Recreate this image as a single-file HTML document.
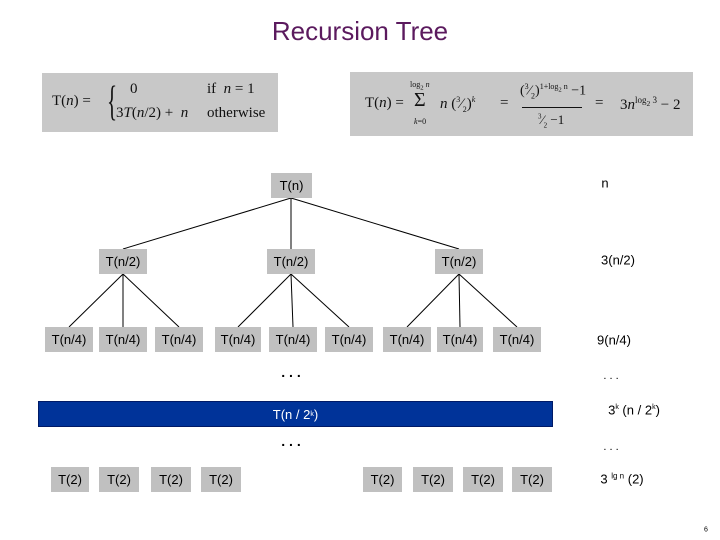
<!DOCTYPE html>
<html><head><meta charset="utf-8"><style>
body{margin:0;width:720px;height:540px;background:#fff;position:relative;overflow:hidden;font-family:"Liberation Sans",sans-serif;}
.a{position:absolute;}
.b{position:absolute;background:#c0c0c0;font-size:13px;color:#000;display:flex;align-items:center;justify-content:center;}
.t{position:absolute;font-size:13px;transform:translate(-50%,-50%);white-space:nowrap;}
.f{font-family:"Liberation Serif",serif;color:#111;}
</style></head><body>
<div class="a" style="left:0;width:720px;top:16px;text-align:center;font-size:26px;color:#5b1a5e;">Recursion Tree</div>
<div class="a f" style="left:42px;top:73px;width:236px;height:59px;background:#c8c8c8;">
 <span class="a" style="left:10px;top:20px;font-size:15px;">T(<i>n</i>) =</span>
 <span class="a" style="left:60px;top:5px;font-size:42px;font-weight:100;transform:scaleX(0.5);">{</span>
 <span class="a" style="left:88px;top:8px;font-size:15px;">0</span>
 <span class="a" style="left:165px;top:8px;font-size:15px;">if &nbsp;<i>n</i> = 1</span>
 <span class="a" style="left:74px;top:32px;font-size:15px;">3<i>T</i>(<i>n</i>/2) + &nbsp;<i>n</i></span>
 <span class="a" style="left:165px;top:32px;font-size:15px;">otherwise</span>
</div>
<div class="a f" style="left:350px;top:72px;width:343px;height:64px;background:#c8c8c8;">
 <span class="a" style="left:15px;top:23px;font-size:15px;">T(<i>n</i>) =</span>
 <span class="a" style="left:60px;top:8px;font-size:8px;">log<sub>2</sub> <i>n</i></span>
 <span class="a" style="left:64px;top:17px;font-size:20px;">Σ</span>
 <span class="a" style="left:64px;top:45px;font-size:8px;"><i>k</i>=0</span>
 <span class="a" style="left:90px;top:23px;font-size:15px;"><i>n</i> (<sup style="font-size:8px">3</sup>⁄<sub style="font-size:8px">2</sub>)<sup style="font-size:8px"><i>k</i></sup></span>
 <span class="a" style="left:150px;top:23px;font-size:15px;">=</span>
 <span class="a" style="left:170px;top:10px;font-size:14px;">(<sup style="font-size:8px">3</sup>⁄<sub style="font-size:8px">2</sub>)<sup style="font-size:8px">1+log<sub>2</sub> n</sup> −1</span>
 <div class="a" style="left:172px;top:35px;width:60px;border-top:1px solid #111;"></div>
 <span class="a" style="left:188px;top:40px;font-size:13px;"><sup style="font-size:7px">3</sup>⁄<sub style="font-size:7px">2</sub> −1</span>
 <span class="a" style="left:245px;top:23px;font-size:15px;">=</span>
 <span class="a" style="left:270px;top:23px;font-size:15px;">3<i>n</i><sup style="font-size:9px">log<sub>2</sub> 3</sup> − 2</span>
</div>
<svg class="a" style="left:0;top:0" width="720" height="540">
<g stroke="#000" stroke-width="1">
<line x1="291" y1="198" x2="123" y2="249"/><line x1="291" y1="198" x2="291" y2="249"/><line x1="291" y1="198" x2="459" y2="249"/>
<line x1="123" y1="274" x2="69" y2="327"/><line x1="123" y1="274" x2="123" y2="327"/><line x1="123" y1="274" x2="179" y2="327"/>
<line x1="291" y1="274" x2="238" y2="327"/><line x1="291" y1="274" x2="293" y2="327"/><line x1="291" y1="274" x2="349" y2="327"/>
<line x1="459" y1="274" x2="407" y2="327"/><line x1="459" y1="274" x2="460" y2="327"/><line x1="459" y1="274" x2="517" y2="327"/>
</g></svg>
<div class="b" style="left:271px;top:173px;width:41px;height:25px;">T(n)</div>
<div class="b" style="left:99px;top:249px;width:48px;height:25px;">T(n/2)</div>
<div class="b" style="left:267px;top:249px;width:48px;height:25px;">T(n/2)</div>
<div class="b" style="left:435px;top:249px;width:48px;height:25px;">T(n/2)</div>
<div class="b" style="left:45px;top:327px;width:48px;height:25px;">T(n/4)</div>
<div class="b" style="left:99px;top:327px;width:48px;height:25px;">T(n/4)</div>
<div class="b" style="left:155px;top:327px;width:48px;height:25px;">T(n/4)</div>
<div class="b" style="left:215px;top:327px;width:46px;height:25px;">T(n/4)</div>
<div class="b" style="left:269px;top:327px;width:48px;height:25px;">T(n/4)</div>
<div class="b" style="left:325px;top:327px;width:48px;height:25px;">T(n/4)</div>
<div class="b" style="left:383px;top:327px;width:48px;height:25px;">T(n/4)</div>
<div class="b" style="left:437px;top:327px;width:46px;height:25px;">T(n/4)</div>
<div class="b" style="left:493px;top:327px;width:48px;height:25px;">T(n/4)</div>
<div class="t" style="left:291px;top:372px;font-size:14px;font-weight:bold;">. . .</div>
<div class="a" style="left:38px;top:401px;width:513px;height:24px;background:#003399;border:1px solid #001a66;color:#fff;font-size:13px;display:flex;align-items:center;justify-content:center;">T(n / 2<sup style="font-size:7px">k</sup>)</div>
<div class="t" style="left:291px;top:441px;font-size:14px;font-weight:bold;">. . .</div>
<div class="b" style="left:51px;top:467px;width:38px;height:25px;">T(2)</div>
<div class="b" style="left:99px;top:467px;width:40px;height:25px;">T(2)</div>
<div class="b" style="left:151px;top:467px;width:40px;height:25px;">T(2)</div>
<div class="b" style="left:201px;top:467px;width:40px;height:25px;">T(2)</div>
<div class="b" style="left:363px;top:467px;width:39px;height:25px;">T(2)</div>
<div class="b" style="left:413px;top:467px;width:40px;height:25px;">T(2)</div>
<div class="b" style="left:463px;top:467px;width:40px;height:25px;">T(2)</div>
<div class="b" style="left:512px;top:467px;width:40px;height:25px;">T(2)</div>
<div class="t" style="left:605px;top:183px;">n</div>
<div class="t" style="left:618px;top:260px;">3(n/2)</div>
<div class="t" style="left:614px;top:340px;">9(n/4)</div>
<div class="t" style="left:611px;top:376px;font-size:11px;">. . .</div>
<div class="t" style="left:634px;top:410px;">3<sup style="font-size:7px">k</sup> (n / 2<sup style="font-size:7px">k</sup>)</div>
<div class="t" style="left:611px;top:447px;font-size:11px;">. . .</div>
<div class="t" style="left:622px;top:479px;">3 <sup style="font-size:8px">lg n</sup> (2)</div>
<div class="t" style="left:706px;top:530px;font-size:7px;">6</div>
</body></html>
